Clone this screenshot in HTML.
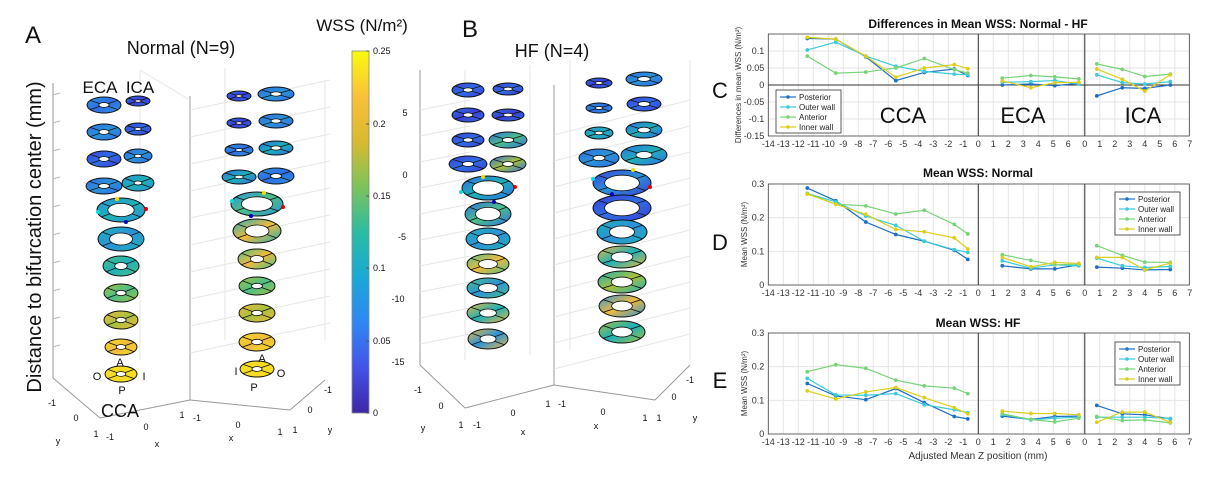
<!DOCTYPE html>
<html><head><meta charset="utf-8"><style>
html,body{margin:0;padding:0;background:#fff;}
svg{display:block;font-family:"Liberation Sans",sans-serif;}
</style></head><body>
<svg id="fig" width="1209" height="477" viewBox="0 0 1209 477">
<g id="left"></g>
<g id="charts"></g>
</svg>
<script>
const NS='http://www.w3.org/2000/svg';
const L=document.getElementById('left'), C=document.getElementById('charts');
function mk(parent,tag,attrs,text){const e=document.createElementNS(NS,tag);for(const k in attrs)e.setAttribute(k,attrs[k]);if(text!==undefined)e.textContent=text;parent.appendChild(e);return e;}

// ---------- Left 3D ring panels (decorative) ----------
const parula=['#3b3fd6','#2f6ee6','#2b93d8','#1eb0b8','#4cbf88','#a6c13e','#f0ba3e','#f6dc22'];
function ring(cx,cy,rx,ry,ir,c1,c2){
  const id='g'+Math.round(cx*10)+'_'+Math.round(cy*10);
  const d=mk(L,'defs',{});
  const g=mk(d,'linearGradient',{id:id,x1:'0',y1:'0',x2:'1',y2:'1'});
  mk(g,'stop',{offset:'0','stop-color':c1});mk(g,'stop',{offset:'0.5','stop-color':c2});mk(g,'stop',{offset:'1','stop-color':c1});
  const e=mk(L,'ellipse',{cx:cx,cy:cy,rx:rx,ry:ry,fill:'url(#'+id+')',stroke:'#111','stroke-width':1});
  
  
  [35,145,215,325].forEach(a=>{const t=a*Math.PI/180;
    mk(L,'line',{x1:cx+rx*ir*Math.cos(t),y1:cy+ry*ir*Math.sin(t),x2:cx+rx*Math.cos(t),y2:cy+ry*Math.sin(t),stroke:'#111','stroke-width':0.8});});
  mk(L,'ellipse',{cx:cx,cy:cy,rx:rx*ir,ry:ry*ir,fill:'#fff',stroke:'#111','stroke-width':0.8});
}
function gl(x1,y1,x2,y2,c,w){mk(L,'line',{x1,y1,x2,y2,stroke:c||'#ccc','stroke-width':w||1});}
function tx(x,y,s,size,anchor,name){const t=mk(L,'text',{x,y,'font-size':size,'text-anchor':anchor||'middle',fill:'#111'},s);return t;}

// axes frames panel A
gl(53,83,53,378,'#999');gl(53,378,100,418,'#999');gl(100,418,190,400,'#999');gl(190,96,190,400,'#999');
gl(190,400,290,410,'#999');gl(290,410,325,380,'#999');
for(let i=0;i<10;i++){gl(53,95+i*28,60,93+i*28,'#bbb');gl(190,110+i*27,330,80+i*27,'#e6e6e6');}
gl(140,70,190,100,'#e6e6e6');gl(225,68,225,340,'#e6e6e6');gl(325,80,325,340,'#e6e6e6');gl(140,70,140,360,'#e6e6e6');
// panel B
gl(420,70,420,365,'#999');gl(420,365,465,408,'#999');gl(465,408,554,385,'#999');gl(554,85,554,385,'#999');
gl(554,385,655,400,'#999');gl(655,400,690,365,'#999');
for(let i=0;i<10;i++){gl(420,110+i*26,470,100+i*26,'#e6e6e6');gl(554,135+i*26,690,100+i*26,'#e6e6e6');}
gl(465,70,465,360,'#e6e6e6');gl(530,65,530,355,'#e6e6e6');gl(570,60,570,350,'#e6e6e6');gl(690,60,690,360,'#e6e6e6');

const P=parula;
// Panel A left
[[104,105,17,8,P[2],P[1]],[104,132,17,8,P[1],P[2]],[104,159,17,8,P[0],P[1]],[104,186,18,8,P[1],P[2]]].forEach(r=>ring(r[0],r[1],r[2],r[3],0.3,r[4],r[5]));
[[138,101,12,5,P[1],P[0]],[138,129,13,6,P[0],P[1]],[138,156,14,7,P[1],P[2]],[138,183,16,8,P[2],P[3]]].forEach(r=>ring(r[0],r[1],r[2],r[3],0.25,r[4],r[5]));
[[121,210,24,12,0.55,P[2],P[3]],[121,239,23,12,0.5,P[3],P[2]],[121,266,18,10,0.35,P[4],P[3]],[121,293,17,9,0.3,P[5],P[4]],[121,320,17,9,0.3,P[6],P[5]],[121,347,16,8,0.3,P[7],P[6]],[121,374,16,8,0.3,P[7],P[7]]].forEach(r=>ring(r[0],r[1],r[2],r[3],r[4],r[5],r[6]));
// Panel A right
[[239,96,12,5,P[1],P[0]],[239,123,12,5,P[1],P[0]],[239,150,14,6,P[2],P[1]],[239,177,17,7,P[1],P[3]]].forEach(r=>ring(r[0],r[1],r[2],r[3],0.25,r[4],r[5]));
[[276,94,18,7,P[1],P[2]],[276,121,17,7,P[1],P[2]],[276,148,17,7,P[1],P[3]],[276,176,18,8,P[2],P[1]]].forEach(r=>ring(r[0],r[1],r[2],r[3],0.3,r[4],r[5]));
[[257,204,26,12,0.6,P[2],P[4]],[257,231,24,12,0.5,P[3],P[6]],[257,259,19,10,0.35,P[4],P[6]],[257,286,18,9,0.3,P[5],P[4]],[257,313,18,9,0.3,P[6],P[5]],[257,342,18,9,0.3,P[7],P[6]],[257,369,17,8,0.3,P[7],P[7]]].forEach(r=>ring(r[0],r[1],r[2],r[3],r[4],r[5],r[6]));
// Panel B left
[[468,90,16,7,P[0],P[1]],[468,115,16,7,P[1],P[0]],[468,140,16,7,P[0],P[1]],[468,164,19,8,P[0],P[1]]].forEach(r=>ring(r[0],r[1],r[2],r[3],0.3,r[4],r[5]));
[[508,89,15,6,P[0],P[1]],[508,115,16,6,P[1],P[0]],[508,140,19,8,P[1],P[4]],[508,164,18,8,P[1],P[5]]].forEach(r=>ring(r[0],r[1],r[2],r[3],0.3,r[4],r[5]));
[[488,188,26,12,0.6,P[1],P[3]],[488,214,23,12,0.55,P[1],P[4]],[488,239,22,11,0.5,P[3],P[2]],[488,264,21,10,0.45,P[4],P[6]],[488,288,21,10,0.45,P[4],P[2]],[488,313,21,10,0.4,P[6],P[3]],[488,339,20,10,0.4,P[6],P[2]]].forEach(r=>ring(r[0],r[1],r[2],r[3],r[4],r[5],r[6]));
// Panel B right
[[599,83,13,5,P[1],P[0]],[599,108,13,5,P[2],P[1]],[599,133,14,6,P[2],P[3]],[599,158,20,9,P[1],P[2]]].forEach(r=>ring(r[0],r[1],r[2],r[3],0.3,r[4],r[5]));
[[644,79,18,7,P[1],P[2]],[644,104,17,7,P[0],P[1]],[644,130,18,8,P[1],P[3]],[644,155,23,10,P[1],P[3]]].forEach(r=>ring(r[0],r[1],r[2],r[3],0.35,r[4],r[5]));
[[622,183,29,13,0.6,P[0],P[2]],[622,208,29,13,0.6,P[0],P[1]],[622,232,25,12,0.5,P[3],P[2]],[622,257,24,11,0.45,P[6],P[3]],[622,282,24,11,0.45,P[3],P[5]],[622,306,23,11,0.45,P[2],P[6]],[622,332,23,11,0.45,P[5],P[3]]].forEach(r=>ring(r[0],r[1],r[2],r[3],r[4],r[5],r[6]));

// markers on bifurcation ring
[[117,199,'#e8e000'],[98,212,'#00e0e0'],[146,209,'#e00000'],[126,222,'#0000c0'],[264,193,'#e8e000'],[232,201,'#00e0e0'],[283,207,'#e00000'],[251,216,'#0000c0'],
 [483,177,'#e8e000'],[461,192,'#00e0e0'],[515,187,'#e00000'],[494,202,'#0000c0'],[633,170,'#e8e000'],[593,179,'#00e0e0'],[650,187,'#e00000'],[612,194,'#0000c0']].forEach(m=>mk(L,'circle',{cx:m[0],cy:m[1],r:2,fill:m[2]}));

// Colorbar
const cbd=mk(L,'defs',{});const cg=mk(cbd,'linearGradient',{id:'cbg',x1:'0',y1:'1',x2:'0',y2:'0'});
['#3e26a8','#4353e8','#2f87f4','#1aa8d6','#2cbca2','#7cc45a','#d8ba30','#fbc03a','#f9fb0e'].forEach((c,i,a)=>mk(cg,'stop',{offset:i/(a.length-1),'stop-color':c}));
const cb=mk(L,'rect',{x:352,y:51,width:17,height:362,fill:'url(#cbg)',stroke:'#888','stroke-width':0.8});


[['0.25',51],['0.2',124],['0.15',196],['0.1',268],['0.05',341],['0',413]].forEach(t=>{tx(373,t[1]+3,t[0],9,'start','colorbar-tick');gl(366,t[1],369,t[1],'#555');});
tx(362,31,'WSS (N/m²)',17,'middle','colorbar-title');

// Text labels left
tx(33,43,'A',24,'middle','panel-a-label');tx(181,54,'Normal (N=9)',18,'middle','panel-a-title');
tx(470,37,'B',24,'middle','panel-b-label');tx(552,57,'HF (N=4)',18,'middle','panel-b-title');
const yl=tx(0,0,'Distance to bifurcation center (mm)',20,'middle','z-axis-title');yl.setAttribute('transform','translate(41,237) rotate(-90)');
tx(100,93,'ECA',17,'middle','eca-label');tx(140,93,'ICA',17,'middle','ica-label');tx(120,417,'CCA',18,'middle','cca-label');
[['A',120,366],['O',97,380],['I',144,380],['P',122,394],['A',262,362],['I',236,375],['O',281,377],['P',254,391]].forEach(t=>tx(t[1],t[2],t[0],11,'middle','orientation-label'));
[['-1',52,406],['0',76,421],['1',96,437],['y',58,444],['-1',110,440],['0',146,430],['1',182,418],['x',157,447],['-1',197,421],['0',238,428],['1',280,435],['x',231,441],['1',295,433],['0',310,413],['-1',328,393],['y',330,433],
 ['5',405,116],['0',405,178],['-5',402,240],['-10',398,302],['-15',398,365],['-1',418,393],['0',441,409],['1',461,428],['y',423,431],['-1',477,428],['0',513,416],['1',548,407],['x',523,435],['-1',562,407],['0',603,415],['1',645,421],['x',596,429],['1',659,421],['0',674,400],['-1',690,383],['y',695,421]].forEach(t=>tx(t[1],t[2],t[0],9,'middle','axis-tick'));

// ---------- Line charts ----------
const seriesNames=['Posterior','Outer wall','Anterior','Inner wall'];
const seriesColors=['#1f6fc4','#3ccbdc','#78d478','#dccf1c'];
const ccaX=[-11.4,-9.5,-7.5,-5.5,-3.6,-1.6,-0.7];
const ecaX=[1.6,3.5,5.1,6.7];
const icaX=[0.8,2.5,4.0,5.7];
// Chart C: differences
const diffPosterior=[0.137,0.135,0.083,0.013,0.037,0.047,0.028, 0,0.003,-0.002,0.005, -0.032,-0.008,-0.010,0];
const diffOuter=[0.103,0.126,0.085,0.055,0.040,0.032,0.030, 0.008,0.010,0.013,0.003, 0.030,0.007,0.003,0.010];
const diffAnterior=[0.085,0.035,0.038,0.050,0.078,0.045,0.035, 0.020,0.028,0.024,0.018, 0.062,0.046,0.025,0.032];
const diffInner=[0.140,0.135,0.085,0.023,0.050,0.060,0.048, 0.012,-0.008,0.007,0.008, 0.047,0.017,-0.018,0.030];
// Chart D: Normal
const normPosterior=[0.288,0.250,0.187,0.150,0.130,0.103,0.076, 0.057,0.048,0.048,0.060, 0.053,0.050,0.045,0.046];
const normOuter=[0.272,0.247,0.205,0.177,0.130,0.105,0.097, 0.072,0.050,0.060,0.057, 0.080,0.057,0.052,0.055];
const normAnterior=[0.272,0.240,0.235,0.211,0.222,0.180,0.152, 0.090,0.073,0.060,0.062, 0.117,0.088,0.068,0.067];
const normInner=[0.270,0.240,0.210,0.165,0.158,0.140,0.107, 0.082,0.054,0.067,0.064, 0.082,0.082,0.045,0.065];
// Chart E: HF
const hfPosterior=[0.150,0.113,0.102,0.135,0.093,0.052,0.045, 0.053,0.043,0.052,0.053, 0.085,0.060,0.057,0.045];
const hfOuter=[0.165,0.116,0.115,0.120,0.087,0.072,0.063, 0.058,0.042,0.047,0.050, 0.050,0.050,0.050,0.046];
const hfAnterior=[0.185,0.206,0.195,0.160,0.143,0.136,0.120, 0.060,0.043,0.036,0.047, 0.052,0.040,0.042,0.033];
const hfInner=[0.128,0.104,0.125,0.138,0.108,0.078,0.060, 0.068,0.061,0.061,0.057, 0.035,0.065,0.065,0.035];
const ticksDiff=[0.1,0.05,0,-0.05,-0.1,-0.15];
const ticksWss=[0.3,0.2,0.1,0];

const X0=768.3, PX=15.0, ECA_OFF=14, ICA_OFF=14+7.1;
function xs(seg,v){return X0+(seg==='c'?(v+14):seg==='e'?(ECA_OFF+v):(ICA_OFF+v))*PX;}
function drawChart(o){
  const g=mk(C,'g',{});
  
  
  const top=o.top,bot=o.bot,right=1189.3;
  const ys=v=>bot-(v-o.ymin)/(o.ymax-o.ymin)*(bot-top);
  // grid
  for(let i=-14;i<=0;i++)mk(g,'line',{x1:xs('c',i),y1:top,x2:xs('c',i),y2:bot,stroke:'#e4e4e4'});
  for(let i=1;i<=7;i++)mk(g,'line',{x1:xs('e',i),y1:top,x2:xs('e',i),y2:bot,stroke:'#e4e4e4'});
  for(let i=1;i<=7;i++)mk(g,'line',{x1:xs('i',i),y1:top,x2:xs('i',i),y2:bot,stroke:'#e4e4e4'});
  o.ticks.forEach(t=>{mk(g,'line',{x1:X0,y1:ys(t),x2:right,y2:ys(t),stroke:'#e4e4e4'});
    const tl=mk(g,'text',{x:X0-4,y:ys(t)+3,'font-size':9,'text-anchor':'end',fill:'#333'},String(t));
    });
  if(o.zero)mk(g,'line',{x1:X0,y1:ys(0),x2:right,y2:ys(0),stroke:'#333','stroke-width':1});
  mk(g,'rect',{x:X0,y:top,width:right-X0,height:bot-top,fill:'none',stroke:'#444','stroke-width':0.8});
  mk(g,'line',{x1:xs('e',0),y1:top,x2:xs('e',0),y2:bot,stroke:'#333','stroke-width':1});
  mk(g,'line',{x1:xs('i',0),y1:top,x2:xs('i',0),y2:bot,stroke:'#333','stroke-width':1});
  // x ticks
  const xt=[];for(let i=-14;i<=0;i++)xt.push(['c',i]);for(let i=1;i<=6;i++)xt.push(['e',i]);for(let i=0;i<=7;i++)xt.push(['i',i]);
  xt.forEach(t=>{const l=mk(g,'text',{x:xs(t[0],t[1]),y:bot+11,'font-size':9,'text-anchor':'middle',fill:'#333'},String(t[1]));
    });
  const ti=mk(g,'text',{x:978,y:o.titleY,'font-size':12,'font-weight':'bold','text-anchor':'middle',fill:'#111'},o.title);
  
  const yt=mk(g,'text',{x:0,y:0,'font-size':8,'text-anchor':'middle',fill:'#333',transform:'translate('+o.ylabX+','+((top+bot)/2)+') rotate(-90)'},o.ylab);
  
  const pl=mk(g,'text',{x:720,y:o.letterY,'font-size':22,'text-anchor':'middle',fill:'#111'},o.letter);
  
  // series
  o.series.forEach((vals,si)=>{
    const segs=[['c',ccaX,0],['e',ecaX,7],['i',icaX,11]];
    segs.forEach(s=>{
      const pts=s[1].map((x,k)=>[xs(s[0],x),ys(vals[s[2]+k])]);
      const p=mk(g,'polyline',{points:pts.map(q=>q.join(',')).join(' '),fill:'none',stroke:seriesColors[si],'stroke-width':1.2});
      
      
      pts.forEach(q=>{const c=mk(g,'circle',{cx:q[0],cy:q[1],r:1.9,fill:seriesColors[si]});
        });
    });
  });
  // legend
  const lg=mk(g,'g',{});
  
  
  mk(lg,'rect',{x:o.lx,y:o.ly,width:65,height:43,fill:'#fff',stroke:'#333','stroke-width':0.8});
  seriesNames.forEach((n,i)=>{const yy=o.ly+7+i*10;
    mk(lg,'line',{x1:o.lx+4,y1:yy,x2:o.lx+20,y2:yy,stroke:seriesColors[i],'stroke-width':1.2});
    mk(lg,'circle',{cx:o.lx+12,cy:yy,r:1.8,fill:seriesColors[i]});
    const e=mk(lg,'text',{x:o.lx+23,y:yy+3,'font-size':8,fill:'#222'},n);
    });
  return g;
}
const gc=drawChart({name:'chart-differences',top:34,bot:136,ymin:-0.15,ymax:0.15,ticks:ticksDiff,zero:true,title:'Differences in Mean WSS: Normal - HF',titleY:28,
  ylab:'Differences in mean WSS (N/m²)',ylabX:741,letter:'C',letterY:98,series:[diffPosterior,diffOuter,diffAnterior,diffInner],lx:776,ly:90});
[['CCA',903],['ECA',1023],['ICA',1143]].forEach(t=>{const e=mk(gc,'text',{x:t[1],y:123,'font-size':22,'text-anchor':'middle',fill:'#111'},t[0]);
  });
drawChart({name:'chart-normal',top:184,bot:285,ymin:0,ymax:0.3,ticks:ticksWss,zero:false,title:'Mean WSS: Normal',titleY:177,
  ylab:'Mean WSS (N/m²)',ylabX:747,letter:'D',letterY:250,series:[normPosterior,normOuter,normAnterior,normInner],lx:1115,ly:192});
drawChart({name:'chart-hf',top:333,bot:434,ymin:0,ymax:0.3,ticks:ticksWss,zero:false,title:'Mean WSS: HF',titleY:327,
  ylab:'Mean WSS (N/m²)',ylabX:747,letter:'E',letterY:388,series:[hfPosterior,hfOuter,hfAnterior,hfInner],lx:1115,ly:342});
const xl=mk(C,'text',{x:978,y:459,'font-size':10,'text-anchor':'middle',fill:'#333'},'Adjusted Mean Z position (mm)');


</script>
</body></html>
